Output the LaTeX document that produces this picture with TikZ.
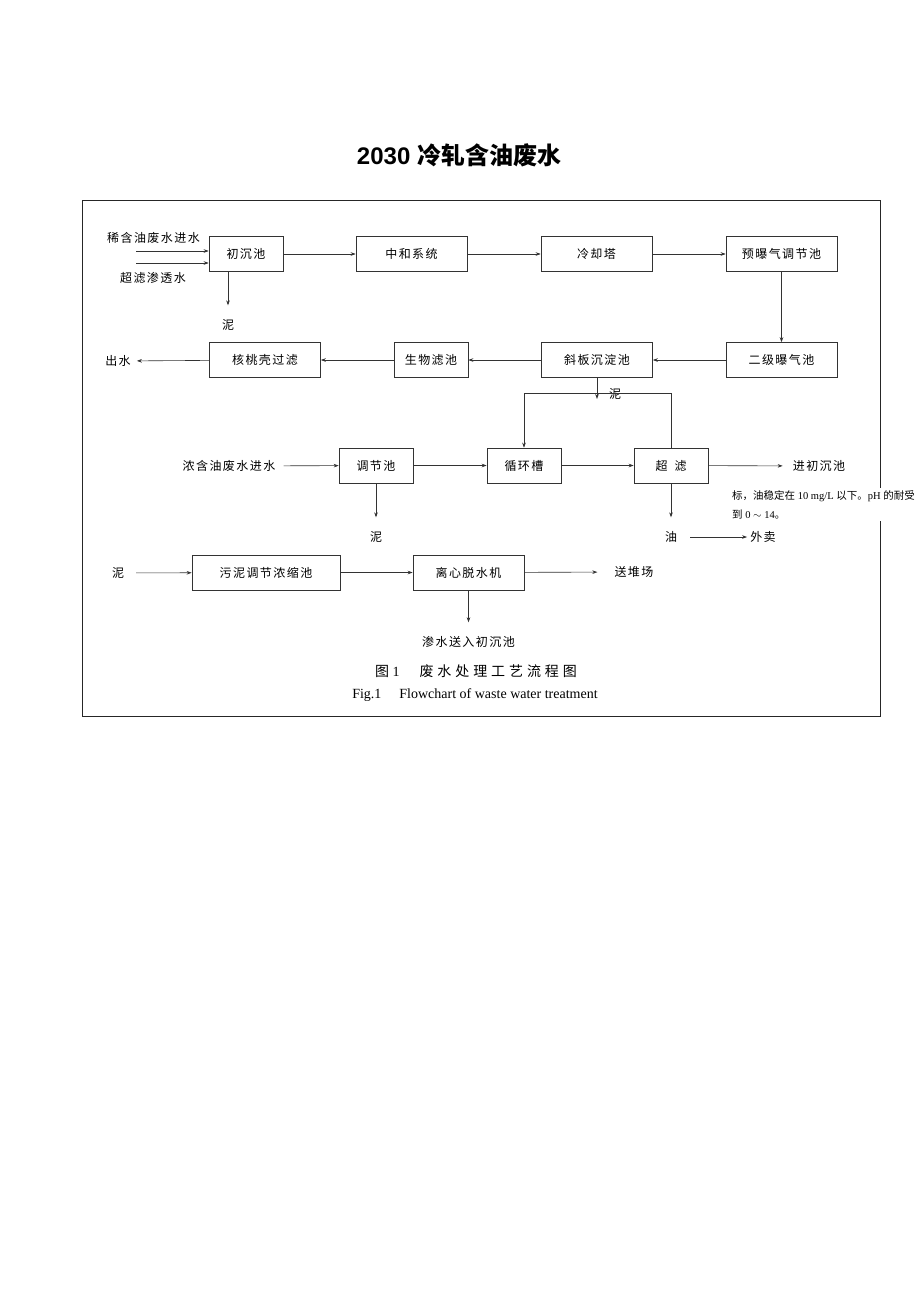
\documentclass[tikz,border=0pt]{standalone}
\usepackage{fontspec}
\setmainfont{Liberation Serif}
\setsansfont{Liberation Sans}
\newfontfamily\cjk[LetterSpace=12]{Noto Sans CJK SC}
\newfontfamily\cjkt{Noto Sans CJK SC}
\newfontfamily\cjkcap[LetterSpace=28]{Noto Sans CJK SC}
\usetikzlibrary{arrows.meta}

\tikzset{
  pool/.style={draw=black!80, line width=0.7pt, minimum height=35pt, inner sep=0pt,
    font=\fontsize{12}{14}\selectfont\cjk},
  short/.style={pool, minimum width=74pt},
  long/.style={pool, minimum width=111pt},
  tag/.style={inner sep=3pt, font=\fontsize{12}{14}\selectfont\cjk},
  flow/.style={->, line width=0.6pt, draw=black!80},
  down/.style={flow, shorten >=11pt},
}

\begin{document}
\begin{tikzpicture}[x=1pt, y=-1pt, >={Stealth[length=5pt,width=3.6pt]}]
\useasboundingbox (0,0) rectangle (920,1302);
% 标题与外框
\node (title) at (459,155) {\fontsize{24}{28}\selectfont\sffamily\bfseries 2030 {\cjkt\bfseries 冷轧含油废水}};
\draw[line width=1pt, black!85] (82,200) rectangle (880,716);

% 稀含油废水
\node[short] (chu) at (246,254) {初沉池};
\node[long] (zhonghe) at (411.5,254) {中和系统};
\node[long] (lengque) at (596.5,254) {冷却塔};
\node[long] (yubao) at (781.5,254) {预曝气调节池};
\node[long] (erji) at (781.5,360) {二级曝气池};
\node[long] (xieban) at (597,360) {斜板沉淀池};
\node[short] (shengwu) at (431,360) {生物滤池};
\node[long] (hetao) at (265,360) {核桃壳过滤};

\node[tag] (xijin) at (153.5,238) {稀含油废水进水};
\node[tag] (chaoshen) at (153,278) {超滤渗透水};
\coordinate (in1) at (136,251);
\coordinate (in2) at (136,263);
\node[tag] (ni1) at (228,325) {泥};
\node[tag] (chushui) at (118,361) {出水};
\node[tag] (ni2) at (615,394) {泥};
\coordinate (x2) at (597,399);

\draw[flow] (in1) -- (in1 -| chu.west);
\draw[flow] (in2) -- (in2 -| chu.west);
\draw[down] (chu.south -| ni1) -- (ni1.north);
\draw[flow] (chu) -- (zhonghe);
\draw[flow] (zhonghe) -- (lengque);
\draw[flow] (lengque) -- (yubao);
\draw[flow] (yubao) -- (erji);
\draw[flow] (erji) -- (xieban);
\draw[flow] (xieban) -- (shengwu);
\draw[flow] (shengwu) -- (hetao);
\draw[flow, shorten >=3pt] (hetao) -- (chushui);
\draw[flow] (xieban.south) -- (x2);

% 浓含油废水
\node[short] (tiaojie) at (376,465.5) {调节池};
\node[short] (xunhuan) at (524,465.5) {循环槽};
\node[short] (chaolv) at (671,465.5) {超\hspace{7pt}滤};
\node[tag] (nongjin) at (229,466) {浓含油废水进水};
\node[tag] (jinchu) at (819,466) {进初沉池};
\node[tag] (ni3) at (376,537) {泥};
\node[tag] (you) at (671,537) {油};
\node[tag] (waimai) at (763,537) {外卖};

\draw[flow, shorten <=5pt] (nongjin) -- (tiaojie);
\draw[flow] (tiaojie) -- (xunhuan);
\draw[flow] (xunhuan) -- (chaolv);
\draw[flow, shorten >=7pt] (chaolv) -- (jinchu);
\draw[flow] (chaolv.north) -- ++(0,-54) -| (xunhuan.north);
\draw[down] (tiaojie) -- (ni3);
\draw[down] (chaolv) -- (you);
\draw[flow, shorten <=10pt] (you) -- (waimai);

\node[anchor=north west, fill=white, inner xsep=0pt, inner ysep=2pt, align=left,
  font=\fontsize{10.5}{19}\selectfont] (note) at (732,488)
  {{\cjkt 标，油稳定在} 10 mg/L {\cjkt 以下。}pH {\cjkt 的耐受}\\{\cjkt 到} 0 $\sim$ 14{\cjkt 。}};

% 污泥处理
\node[pool, minimum width=148pt] (wuni) at (266,572.5) {污泥调节浓缩池};
\node[long] (lixin) at (468.5,572.5) {离心脱水机};
\node[tag] (ni4) at (118,573) {泥};
\node[tag] (duichang) at (634,572) {送堆场};
\node[tag] (shenshui) at (468.5,642) {渗水送入初沉池};

\draw[flow, shorten <=9pt] (ni4) -- (wuni);
\draw[flow] (wuni) -- (lixin);
\draw[flow, shorten >=14pt] (lixin) -- (duichang);
\draw[down] (lixin) -- (shenshui);

% 图题
\node (captcn) at (476,671) {\fontsize{14}{16}\selectfont{\cjkcap 图} 1\hspace{20pt}{\cjkcap 废水处理工艺流程图}};
\node (capen) at (475,695) {\fontsize{14}{16}\selectfont Fig.1\hspace{18pt}Flowchart of waste water treatment};
\end{tikzpicture}
\end{document}
